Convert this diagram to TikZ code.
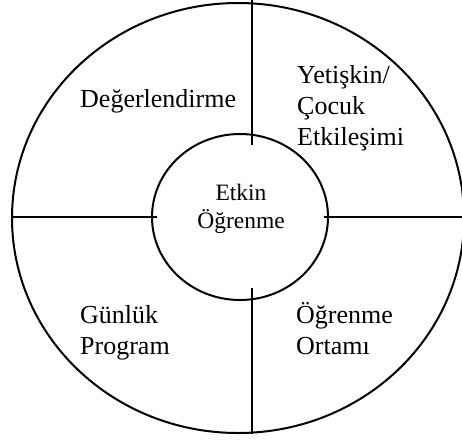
\documentclass[tikz,border=0pt]{standalone}
\usepackage{fontspec}
\setmainfont{Liberation Serif}
\usetikzlibrary{shapes.geometric}
\begin{document}
\begin{tikzpicture}[x=1pt,y=-1pt,
  ring/.style={draw=black,line width=2pt,ellipse,inner sep=0pt},
  spoke/.style={draw=black,line width=2pt},
  lbl/.style={inner sep=0pt,anchor=base west,align=left,font=\fontsize{26}{31}\selectfont},
  core/.style={inner sep=0pt,anchor=base,align=center,font=\fontsize{23.5}{28}\selectfont}]
\useasboundingbox (0,0) rectangle (462,439);
\clip (0,0) rectangle (462,439);
\node[ring,minimum width=452pt,minimum height=430pt] (outer) at (238,218) {};
\node[ring,minimum width=176pt,minimum height=166pt] (inner) at (240,217) {};
\coordinate (t1) at (252,0);   \coordinate (t2) at (252,145);
\coordinate (b1) at (252,288); \coordinate (b2) at (252,434);
\coordinate (l1) at (12,217);  \coordinate (l2) at (157,217);
\coordinate (r1) at (324,217); \coordinate (r2) at (462,217);
\draw[spoke] (t1) -- (t2);
\draw[spoke] (b1) -- (b2);
\draw[spoke] (l1) -- (l2);
\draw[spoke] (r1) -- (r2);
\node[core] (center) at (241,228) {Etkin\\Öğrenme};
\node[lbl] (deg) at (80,107) {Değerlendirme};
\node[lbl] (yet) at (297,145) {Yetişkin/\\Çocuk\\Etkileşimi};
\node[lbl] (gun) at (80,354) {Günlük\\Program};
\node[lbl] (ogr) at (296,354) {Öğrenme\\Ortamı};
\end{tikzpicture}
\end{document}
